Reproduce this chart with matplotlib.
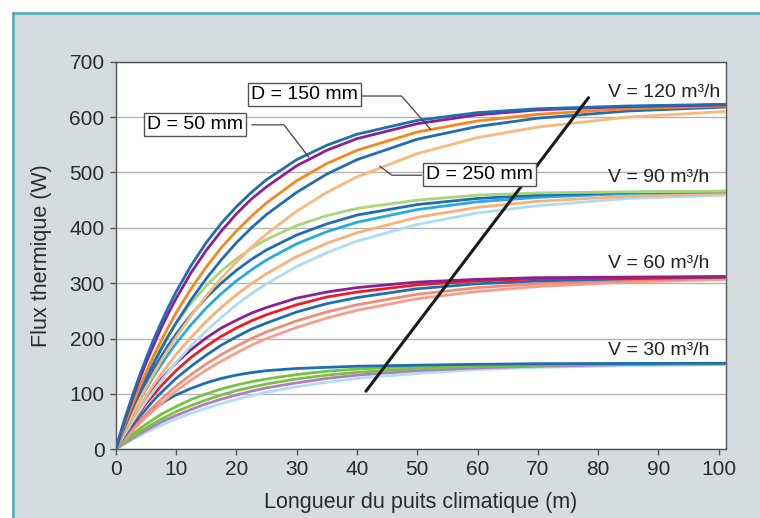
import matplotlib.pyplot as plt
from matplotlib.patches import Rectangle
from matplotlib.lines import Line2D

plt.rcParams['font.family'] = ['Liberation Sans', 'DejaVu Sans']

# pipe length (m) at which the curves were read
length = [0, 1.25, 2.5, 3.75, 5, 6.25, 7.5, 8.75, 10, 12.5, 15, 17.5, 20, 22.5, 25,
          30, 35, 40, 50, 60, 70, 85, 101]

# heat flux (W), one curve per pipe diameter D = 50, 100, 150, 200, 250 mm
v120 = [
    [0, 46, 88, 127, 163, 197, 228, 257, 284, 332, 373, 408, 438, 464, 487, 523, 549, 569, 594, 608, 615, 620, 623],
    [0, 43, 83, 120, 155, 187, 218, 246, 272, 319, 359, 394, 425, 452, 474, 512, 540, 561, 588, 604, 613, 619, 622],
    [0, 38, 73, 107, 138, 168, 195, 221, 246, 290, 329, 364, 394, 421, 445, 485, 516, 540, 573, 593, 605, 615, 620],
    [0, 34, 67, 98, 127, 154, 180, 205, 228, 270, 308, 342, 373, 400, 424, 464, 497, 523, 560, 583, 598, 611, 618],
    [0, 30, 58, 85, 111, 135, 159, 181, 202, 241, 277, 309, 338, 365, 389, 430, 464, 492, 534, 563, 582, 600, 610],
]
v90 = [
    [0, 37, 72, 103, 132, 159, 184, 206, 227, 264, 295, 322, 344, 363, 379, 404, 422, 435, 450, 459, 463, 465, 466],
    [0, 33, 64, 93, 119, 144, 167, 188, 208, 243, 274, 300, 323, 343, 360, 387, 407, 423, 442, 453, 459, 464, 466],
    [0, 30, 58, 84, 108, 131, 152, 172, 191, 225, 255, 281, 304, 324, 342, 371, 393, 410, 433, 447, 455, 462, 465],
    [0, 26, 50, 73, 95, 116, 135, 153, 171, 202, 231, 256, 279, 299, 317, 348, 372, 391, 419, 437, 448, 457, 462],
    [0, 23, 45, 66, 86, 105, 123, 140, 157, 187, 214, 238, 261, 281, 299, 330, 355, 376, 406, 427, 440, 453, 459],
]
v60 = [
    [0, 26, 49, 71, 91, 109, 126, 141, 156, 180, 201, 219, 233, 246, 256, 273, 284, 292, 302, 307, 310, 311, 312],
    [0, 23, 44, 63, 82, 98, 114, 128, 142, 166, 186, 204, 219, 232, 243, 261, 275, 284, 297, 304, 308, 310, 311],
    [0, 20, 39, 56, 72, 88, 102, 115, 128, 150, 170, 188, 203, 217, 228, 248, 263, 274, 290, 299, 304, 308, 311],
    [0, 17, 34, 49, 63, 77, 90, 102, 114, 135, 154, 171, 186, 200, 212, 232, 248, 261, 280, 292, 299, 305, 309],
    [0, 16, 30, 44, 58, 70, 82, 94, 105, 125, 143, 159, 174, 188, 200, 220, 237, 251, 272, 285, 294, 302, 307],
]
v30 = [
    [0, 18, 34, 48.5, 61, 72, 82, 90.5, 98, 110, 120, 128, 134, 138.5, 142, 146, 148, 150, 152, 153.5, 154.5, 155, 155.5],
    [0, 13, 25, 35, 45, 54, 63, 70, 77, 90, 100, 109, 116, 122, 127, 135, 141, 145, 150, 152.5, 154, 154.5, 155],
    [0, 11, 21, 30, 38, 46.5, 54, 61, 68, 79, 89, 98, 106, 112, 118, 127, 134, 139, 146, 150, 152, 154, 154.5],
    [0, 9.5, 18, 26.5, 34, 41.5, 49, 55, 61, 72, 82, 90.5, 98, 105, 111, 120, 128, 134, 142, 147, 150, 153, 154],
    [0, 8, 16, 23, 30, 37, 43, 49, 55, 65, 74, 82.5, 90, 97, 103, 113, 121, 128, 137, 144, 148, 151, 153],
]

groups = [v30, v60, v90, v120]
group_labels = ['V = 30 m³/h', 'V = 60 m³/h', 'V = 90 m³/h', 'V = 120 m³/h']
label_flux = [178, 335, 491, 645]

colors = {
    'V = 120 m³/h': ['#1f6db4', '#8e1f8f', '#f7861f', '#1f6db4', '#fcb77a'],
    'V = 90 m³/h': ['#a9d677', '#1f6db4', '#27a9e1', '#fbb077', '#acdcf3'],
    'V = 60 m³/h': ['#8e1f8f', '#ec1c24', '#1f6db4', '#f58b76', '#f79d8b'],
    'V = 30 m³/h': ['#1f6db4', '#79c143', '#79c143', '#b27cc4', '#b0dff4'],
}

# black trend line across the groups
trend_len = [41.5, 78.4]
trend_flux = [105, 635]

fig = plt.figure(figsize=(7.6, 5.18), dpi=100)
fig.patch.set_facecolor('white')

# grey panel with cyan border on top and left
fig.patches.append(Rectangle((13 / 760, 0), 1, 1 - 13 / 518, transform=fig.transFigure,
                             facecolor='#d4dcdf', edgecolor='none', zorder=-2))
fig.lines.append(Line2D([13 / 760, 1], [1 - 13 / 518] * 2, transform=fig.transFigure,
                        color='#47aac6', lw=1.8, zorder=-1))
fig.lines.append(Line2D([13 / 760] * 2, [0, 1 - 13 / 518], transform=fig.transFigure,
                        color='#47aac6', lw=1.8, zorder=-1))

ax = fig.add_axes([0.1522, 0.1326, 0.8031, 0.7483])
ax.set_facecolor('white')

for group, name in zip(groups, group_labels):
    # thin-pipe curve drawn last so it sits on top
    for curve, col in reversed(list(zip(group, colors[name]))):
        ax.plot(length, curve, color=col, lw=2.0, solid_capstyle='round',
                solid_joinstyle='round', zorder=3)

ax.plot(trend_len, trend_flux, color='#1a1a1a', lw=2.2, solid_capstyle='round', zorder=5)

for name, y in zip(group_labels, label_flux):
    ax.text(81.7, y, name, fontsize=14, color='#222222', ha='left', va='center', zorder=6)

box = dict(boxstyle='square,pad=0.15', fc='white', ec='#555555', lw=1.0)
leader = dict(color='#444444', lw=0.9, zorder=4)

ax.text(31.3, 641, 'D = 150 mm', fontsize=14, ha='center', va='center', bbox=box, zorder=7)
ax.plot([40.7, 47.4, 52.2], [638, 638, 578], **leader)

ax.text(13.1, 586, 'D = 50 mm', fontsize=14, ha='center', va='center', bbox=box, zorder=7)
ax.plot([22.6, 27.9, 32.0], [586, 586, 528], **leader)

ax.text(60.3, 497, 'D = 250 mm', fontsize=14, ha='center', va='center', bbox=box, zorder=7)
ax.plot([50.7, 45.8, 43.8], [495, 495, 511], **leader)

ax.set_xlim(0, 101.2)
ax.set_ylim(0, 700)
ax.set_xticks(range(0, 101, 10))
ax.set_yticks(range(0, 701, 100))
ax.yaxis.grid(True, color='#b3b3b3', lw=1.0)
ax.set_axisbelow(True)

for side in ['left', 'right', 'top', 'bottom']:
    ax.spines[side].set_color('#555555')
    ax.spines[side].set_linewidth(1.0)

ax.tick_params(direction='out', length=4, width=1, color='#555555',
               labelsize=15, labelcolor='#2b2b2b', pad=4)

ax.set_ylabel('Flux thermique (W)', fontsize=15.5, color='#2b2b2b')
ax.set_xlabel('Longueur du puits climatique (m)', fontsize=15.5, color='#2b2b2b')
ax.yaxis.set_label_coords(-0.104, 0.5)
ax.xaxis.set_label_coords(0.499, -0.110)

fig.savefig('out.png', dpi=100, facecolor=fig.get_facecolor())
